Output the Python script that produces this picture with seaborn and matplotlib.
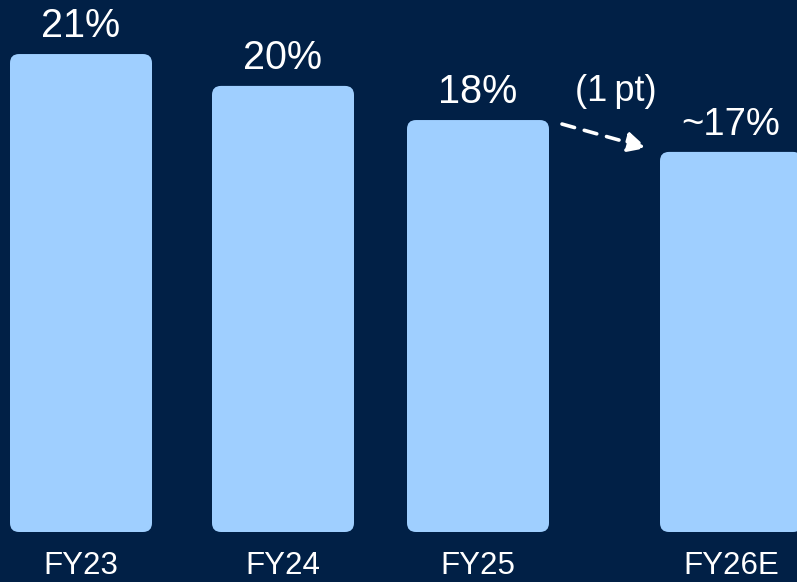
import matplotlib
matplotlib.use("Agg")
import matplotlib.pyplot as plt
import seaborn as sns
import pandas as pd
from matplotlib.patches import FancyBboxPatch

# ---- data ----
categories = ["FY23", "FY24", "FY25", "FY26E"]
values = [21.0, 19.6, 18.1, 16.7]
value_labels = ["21%", "20%", "18%", "~17%"]
change_label = "(1\u2009pt)"

# ---- layout (pixel-based x axis) ----
x_pos = [81, 283, 478, 731]
bar_w = 142
W, H = 797, 582
base_px = 50            # baseline distance from figure bottom
px_per_unit = 22.76     # vertical pixels per percentage point
BG = "#012046"
BAR = "#9fcfff"

sns.set_theme(style="white")
plt.rcParams["font.family"] = ["Liberation Sans", "DejaVu Sans"]

fig = plt.figure(figsize=(W / 100, H / 100), dpi=100, facecolor=BG)
ax = fig.add_axes([0, 0, 1, 1])
ax.set_facecolor(BG)

df = pd.DataFrame({"x": x_pos, "v": values, "cat": categories})
min_gap = min(b - a for a, b in zip(x_pos[:-1], x_pos[1:]))
sns.barplot(data=df, x="x", y="v", native_scale=True, width=bar_w / min_gap,
            color=BAR, saturation=1, errorbar=None, ax=ax)

ymin = -base_px / px_per_unit
ymax = (H - base_px) / px_per_unit
ax.set_xlim(0, W)
ax.set_ylim(ymin, ymax)
ax.axis("off")
upp = 1 / px_per_unit  # data units per pixel in y

# rounded bars
bars = list(ax.patches)
for p in bars:
    x0, w, h = p.get_x(), p.get_width(), p.get_height()
    p.remove()
    ax.add_patch(FancyBboxPatch((x0, 0), w, h,
                                boxstyle="round,pad=0,rounding_size=9",
                                mutation_aspect=upp, facecolor=BAR,
                                edgecolor="none", zorder=2))

pt = 72 / 100  # points per pixel
for xc, v, lbl, cat in zip(x_pos, values, value_labels, categories):
    fs = 27.5 if lbl.startswith("~") else 28.5
    ax.annotate(lbl, xy=(xc, v), xytext=(0, 17 * pt), textcoords="offset points",
                ha="center", va="baseline", fontsize=fs, color="white")
    ax.annotate(cat, xy=(xc, 0), xytext=(0, -42 * pt), textcoords="offset points",
                ha="center", va="baseline", fontsize=22.5, color="white")

# dashed arrow from FY25 to FY26E
x25_right = x_pos[2] + bar_w / 2
x26_left = x_pos[3] - bar_w / 2
start = (x25_right + 13, values[2] - 4 * upp)
end = (x26_left - 13, values[3] + 4 * upp)
ax.annotate("", xy=end, xytext=start,
            arrowprops=dict(arrowstyle="-|>,head_length=0.6,head_width=0.3",
                            linestyle=(0, (3.6, 2.8)), lw=2.6, color="white",
                            mutation_scale=20, shrinkA=0, shrinkB=0))
ax.annotate(change_label, xy=start, xytext=(54 * pt, 23 * pt),
            textcoords="offset points", ha="center", va="baseline",
            fontsize=26, color="white")

fig.savefig("out.png", dpi=100, facecolor=BG)
